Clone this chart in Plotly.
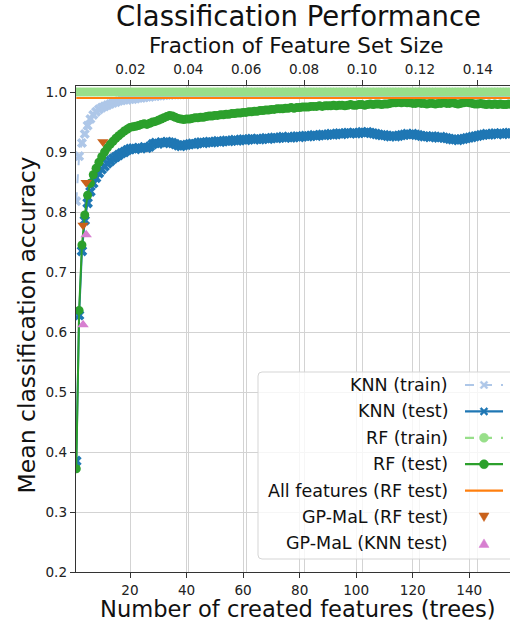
import plotly.graph_objects as go

# ---------------- data ----------------
n_trees = list(range(1, 156))
n_total_features = 1025          # fraction axis: trees / total features

knn_train = [
    0.818, 0.893, 0.915, 0.930, 0.944, 0.955, 0.962, 0.967, 0.971, 0.974,
    0.976, 0.978, 0.980, 0.982, 0.983, 0.985, 0.986, 0.987, 0.987, 0.988,
    0.988, 0.989, 0.990, 0.990, 0.991, 0.992, 0.992, 0.993, 0.993, 0.994,
    0.994, 0.995, 0.995, 0.995, 0.996, 0.996, 0.996, 0.996, 0.997, 0.997,
    0.997, 0.997, 0.998, 0.997, 0.998, 0.998, 0.997, 0.998, 0.998, 0.998,
    0.998, 0.999, 0.998, 0.998, 0.999, 0.998, 0.999, 0.999, 0.998, 0.999,
    0.999, 0.999, 0.998, 0.999, 0.999, 0.999, 0.999, 0.998, 0.999, 0.999,
    0.999, 0.999, 0.999, 0.998, 0.999, 0.999, 0.999, 0.999, 0.999, 0.999,
    0.999, 0.998, 0.999, 0.999, 0.999, 0.999, 0.999, 0.999, 0.998, 0.999,
    0.999, 0.999, 0.999, 0.999, 0.999, 0.999, 0.998, 0.999, 0.999, 0.999,
    0.999, 0.999, 0.999, 0.999, 0.999, 0.998, 0.999, 0.999, 0.999, 0.999,
    0.999, 0.999, 0.999, 0.999, 0.999, 0.999, 0.999, 0.998, 0.999, 0.999,
    0.999, 0.999, 0.999, 0.999, 0.999, 0.999, 0.999, 0.999, 0.999, 0.998,
    0.999, 0.999, 0.999, 0.999, 0.999, 0.999, 0.999, 0.999, 0.999, 0.999,
    0.999, 0.998, 0.999, 0.999, 0.999, 0.999, 0.999, 0.999, 0.999, 0.999,
    0.999, 0.999, 0.999, 0.999, 0.999,
]

knn_test = [
    0.385, 0.628, 0.735, 0.786, 0.815, 0.834, 0.848, 0.857, 0.865, 0.871,
    0.876, 0.881, 0.885, 0.889, 0.892, 0.895, 0.898, 0.900, 0.903, 0.905,
    0.906, 0.905, 0.907, 0.906, 0.908, 0.907, 0.909, 0.913, 0.915, 0.914,
    0.916, 0.915, 0.917, 0.916, 0.915, 0.913, 0.911, 0.910, 0.911, 0.912,
    0.913, 0.914, 0.913, 0.915, 0.916, 0.915, 0.916, 0.917, 0.916, 0.917,
    0.918, 0.917, 0.918, 0.919, 0.918, 0.919, 0.920, 0.919, 0.920, 0.921,
    0.920, 0.921, 0.922, 0.921, 0.922, 0.921, 0.922, 0.923, 0.922, 0.923,
    0.924, 0.923, 0.924, 0.925, 0.924, 0.925, 0.924, 0.925, 0.926, 0.925,
    0.926, 0.927, 0.926, 0.927, 0.928, 0.927, 0.928, 0.929, 0.928, 0.929,
    0.930, 0.929, 0.930, 0.931, 0.930, 0.931, 0.932, 0.931, 0.932, 0.931,
    0.932, 0.933, 0.932, 0.933, 0.932, 0.931, 0.930, 0.929, 0.928, 0.928,
    0.927, 0.926, 0.927, 0.926, 0.927, 0.928, 0.929, 0.930, 0.929, 0.930,
    0.929, 0.928, 0.927, 0.926, 0.926, 0.925, 0.926, 0.925, 0.924, 0.925,
    0.924, 0.923, 0.922, 0.921, 0.921, 0.920, 0.921, 0.922, 0.923, 0.924,
    0.925, 0.926, 0.927, 0.928, 0.929, 0.930, 0.929, 0.930, 0.931, 0.930,
    0.931, 0.930, 0.931, 0.932, 0.931,
]

rf_train = [
    1.000, 1.000, 1.000, 1.000, 1.000, 1.000, 1.000, 1.000, 1.000, 1.000,
    1.000, 1.000, 1.000, 1.000, 1.000, 1.000, 1.000, 1.000, 1.000, 1.000,
    1.000, 1.000, 1.000, 1.000, 1.000, 1.000, 1.000, 1.000, 1.000, 1.000,
    1.000, 1.000, 1.000, 1.000, 1.000, 1.000, 1.000, 1.000, 1.000, 1.000,
    1.000, 1.000, 1.000, 1.000, 1.000, 1.000, 1.000, 1.000, 1.000, 1.000,
    1.000, 1.000, 1.000, 1.000, 1.000, 1.000, 1.000, 1.000, 1.000, 1.000,
    1.000, 1.000, 1.000, 1.000, 1.000, 1.000, 1.000, 1.000, 1.000, 1.000,
    1.000, 1.000, 1.000, 1.000, 1.000, 1.000, 1.000, 1.000, 1.000, 1.000,
    1.000, 1.000, 1.000, 1.000, 1.000, 1.000, 1.000, 1.000, 1.000, 1.000,
    1.000, 1.000, 1.000, 1.000, 1.000, 1.000, 1.000, 1.000, 1.000, 1.000,
    1.000, 1.000, 1.000, 1.000, 1.000, 1.000, 1.000, 1.000, 1.000, 1.000,
    1.000, 1.000, 1.000, 1.000, 1.000, 1.000, 1.000, 1.000, 1.000, 1.000,
    1.000, 1.000, 1.000, 1.000, 1.000, 1.000, 1.000, 1.000, 1.000, 1.000,
    1.000, 1.000, 1.000, 1.000, 1.000, 1.000, 1.000, 1.000, 1.000, 1.000,
    1.000, 1.000, 1.000, 1.000, 1.000, 1.000, 1.000, 1.000, 1.000, 1.000,
    1.000, 1.000, 1.000, 1.000, 1.000,
]

rf_test = [
    0.372, 0.636, 0.745, 0.795, 0.828, 0.848, 0.862, 0.873, 0.883, 0.892,
    0.900, 0.907, 0.913, 0.918, 0.923, 0.927, 0.931, 0.935, 0.938, 0.941,
    0.942, 0.943, 0.944, 0.946, 0.947, 0.946, 0.948, 0.950, 0.951, 0.953,
    0.955, 0.957, 0.959, 0.961, 0.960, 0.958, 0.956, 0.955, 0.954, 0.955,
    0.955, 0.956, 0.957, 0.957, 0.958, 0.958, 0.959, 0.960, 0.960, 0.961,
    0.961, 0.962, 0.962, 0.963, 0.963, 0.964, 0.964, 0.965, 0.965, 0.966,
    0.966, 0.967, 0.967, 0.968, 0.968, 0.969, 0.969, 0.970, 0.970, 0.971,
    0.971, 0.972, 0.972, 0.972, 0.973, 0.973, 0.974, 0.973, 0.974, 0.974,
    0.975, 0.975, 0.975, 0.976, 0.976, 0.976, 0.977, 0.976, 0.977, 0.977,
    0.977, 0.978, 0.977, 0.978, 0.978, 0.977, 0.978, 0.979, 0.978, 0.978,
    0.979, 0.979, 0.978, 0.979, 0.980, 0.979, 0.980, 0.980, 0.979, 0.980,
    0.980, 0.981, 0.982, 0.982, 0.983, 0.982, 0.983, 0.982, 0.982, 0.981,
    0.981, 0.982, 0.981, 0.981, 0.980, 0.981, 0.981, 0.980, 0.981, 0.981,
    0.982, 0.981, 0.981, 0.982, 0.981, 0.980, 0.981, 0.982, 0.983, 0.982,
    0.981, 0.980, 0.980, 0.981, 0.980, 0.979, 0.980, 0.979, 0.980, 0.979,
    0.980, 0.979, 0.979, 0.980, 0.979,
]

all_features_rf = 0.99

gpmal_rf_x = [3.4, 4.5, 10.4]
gpmal_rf_y = [0.778, 0.849, 0.917]
gpmal_knn_x = [3.4, 4.5]
gpmal_knn_y = [0.612, 0.762]

x_ticks = [20, 40, 60, 80, 100, 120, 140]
frac_ticks = [0.02, 0.04, 0.06, 0.08, 0.10, 0.12, 0.14]
y_ticks = [0.2, 0.3, 0.4, 0.5, 0.6, 0.7, 0.8, 0.9, 1.0]

legend_labels = ["KNN (train)", "KNN (test)", "RF (train)", "RF (test)",
                 "All features (RF test)", "GP-MaL (RF test)", "GP-MaL (KNN test)"]

# ---------------- styling ----------------
C_KNN_TR = "#aec7e8"
C_KNN_TE = "#1f77b4"
C_RF_TR = "#98df8a"
C_RF_TE = "#2ca02c"
C_ALL = "#ff7f0e"
C_GP_RF = "#c9611b"
C_GP_KNN = "#d77fd0"
FONT = "DejaVu Sans"
W, H = 510, 623
L, R, T, B = 76, 510, 86, 572


def pxx(px):
    return (px - L) / (R - L)


def pxy(py):
    return (B - py) / (B - T)


fig = go.Figure()
fig.add_trace(go.Scatter(x=n_trees, y=knn_train, mode="lines+markers",
                         line=dict(color=C_KNN_TR, width=2, dash="dash"),
                         marker=dict(symbol="x", size=9, color=C_KNN_TR),
                         name=legend_labels[0], showlegend=False))
fig.add_trace(go.Scatter(x=n_trees, y=knn_test, mode="lines+markers",
                         line=dict(color=C_KNN_TE, width=2),
                         marker=dict(symbol="x", size=9.5, color=C_KNN_TE),
                         name=legend_labels[1], showlegend=False))
fig.add_trace(go.Scatter(x=n_trees, y=rf_train, mode="lines+markers",
                         line=dict(color=C_RF_TR, width=2, dash="dash"),
                         marker=dict(symbol="circle", size=9, color=C_RF_TR),
                         name=legend_labels[2], showlegend=False))
fig.add_trace(go.Scatter(x=n_trees, y=rf_test, mode="lines+markers",
                         line=dict(color=C_RF_TE, width=2),
                         marker=dict(symbol="circle", size=9, color=C_RF_TE),
                         name=legend_labels[3], showlegend=False))
fig.add_trace(go.Scatter(x=[n_trees[0], n_trees[-1]], y=[all_features_rf, all_features_rf],
                         mode="lines", line=dict(color=C_ALL, width=2.2),
                         name=legend_labels[4], showlegend=False))
fig.add_trace(go.Scatter(x=gpmal_rf_x, y=gpmal_rf_y, mode="markers",
                         marker=dict(symbol="triangle-down", size=10, color=C_GP_RF),
                         name=legend_labels[5], showlegend=False))
fig.add_trace(go.Scatter(x=gpmal_knn_x, y=gpmal_knn_y, mode="markers",
                         marker=dict(symbol="triangle-up", size=10, color=C_GP_KNN),
                         name=legend_labels[6], showlegend=False))
# invisible trace carrying the top (fraction) axis
fig.add_trace(go.Scatter(x=[t / n_total_features for t in n_trees], y=rf_test,
                         xaxis="x2", mode="lines", line=dict(width=0, color="rgba(0,0,0,0)"),
                         hoverinfo="skip", showlegend=False))

axis_common = dict(showgrid=True, gridcolor="#d3d3d3", gridwidth=1.2,
                   showline=True, linecolor="#333333", linewidth=1.4,
                   ticks="outside", ticklen=5, tickwidth=1.2, tickcolor="#333333",
                   tickfont=dict(family=FONT, size=13.6, color="#222222"),
                   zeroline=False)

fig.update_layout(
    width=W, height=H,
    margin=dict(l=L, r=W - R, t=T, b=H - B, pad=0),
    paper_bgcolor="white", plot_bgcolor="white",
    font=dict(family=FONT, color="#111111"),
    xaxis=dict(range=[0.9, 154.4], tickvals=x_ticks, **axis_common),
    xaxis2=dict(range=[0.0012, 0.15112], tickvals=frac_ticks, tickformat=".2f",
                overlaying="x", side="top", anchor="y", **axis_common),
    yaxis=dict(range=[0.2, 1.01], tickvals=y_ticks, tickformat=".1f", **axis_common),
)

annotations = [
    dict(text="Classification Performance", x=pxx(298), y=pxy(15.5),
         font=dict(family=FONT, size=27.5, color="#111111")),
    dict(text="Fraction of Feature Set Size", x=pxx(296), y=pxy(45),
         font=dict(family=FONT, size=21.5, color="#111111")),
    dict(text="Number of created features (trees)", x=pxx(298), y=pxy(609),
         font=dict(family=FONT, size=22.6, color="#111111")),
    dict(text="Mean classification accuracy", x=pxx(26.5), y=pxy(325), textangle=-90,
         font=dict(family=FONT, size=23.5, color="#111111")),
]
for a in annotations:
    a.update(xref="paper", yref="paper", xanchor="center", yanchor="middle",
             showarrow=False)

# ---- custom legend (text first, key on the right, like the reference) ----
shapes = []
bx0, bx1, by0, by1, rr = 258, 516, 372, 559, 4
rx, ry = rr / (R - L), rr / (B - T)
X0, X1, Y0, Y1 = pxx(bx0), pxx(bx1), pxy(by1), pxy(by0)
path = (f"M{X0+rx},{Y0} L{X1-rx},{Y0} Q{X1},{Y0} {X1},{Y0+ry} L{X1},{Y1-ry} "
        f"Q{X1},{Y1} {X1-rx},{Y1} L{X0+rx},{Y1} Q{X0},{Y1} {X0},{Y1-ry} "
        f"L{X0},{Y0+ry} Q{X0},{Y0} {X0+rx},{Y0} Z")
shapes.append(dict(type="path", path=path, xref="paper", yref="paper", layer="above",
                   fillcolor="rgba(255,255,255,0.8)", line=dict(color="#d5d5d5", width=1)))

row_y = [385 + 26.4 * i for i in range(len(legend_labels))]
key_x0, key_x1, key_xc = 465, 503, 484
text_right = 450

line_keys = [(C_KNN_TR, "dash"), (C_KNN_TE, "solid"), (C_RF_TR, "dash"),
             (C_RF_TE, "solid"), (C_ALL, "solid"), None, None]
marker_keys = [("x", C_KNN_TR), ("x", C_KNN_TE), ("circle", C_RF_TR), ("circle", C_RF_TE),
               None, ("tri-down", C_GP_RF), ("tri-up", C_GP_KNN)]

X_PATH = ("M-4,-2.6 L-2.6,-4 L0,-1.4 L2.6,-4 L4,-2.6 L1.4,0 L4,2.6 L2.6,4 "
          "L0,1.4 L-2.6,4 L-4,2.6 L-1.4,0 Z")
TRI_DOWN = "M-5,4 L5,4 L0,-4.5 Z"
TRI_UP = "M-5,-4 L5,-4 L0,4.5 Z"

for i, label in enumerate(legend_labels):
    yc = row_y[i]
    annotations.append(dict(text=label, x=pxx(text_right), y=pxy(yc), xref="paper",
                            yref="paper", xanchor="right", yanchor="middle",
                            showarrow=False,
                            font=dict(family=FONT, size=17.5, color="#111111")))
    if line_keys[i] is not None:
        col, dash = line_keys[i]
        shapes.append(dict(type="line", xref="paper", yref="paper", layer="above",
                           x0=pxx(key_x0), x1=pxx(key_x1), y0=pxy(yc), y1=pxy(yc),
                           line=dict(color=col, width=2.2, dash=dash)))
    if marker_keys[i] is not None:
        kind, col = marker_keys[i]
        base = dict(xref="paper", yref="paper", layer="above", xsizemode="pixel",
                    ysizemode="pixel", xanchor=pxx(key_xc), yanchor=pxy(yc),
                    fillcolor=col, line=dict(color=col, width=0.5))
        if kind == "circle":
            base.update(type="circle", x0=-4.5, x1=4.5, y0=-4.5, y1=4.5)
        elif kind == "x":
            base.update(type="path", path=X_PATH)
        elif kind == "tri-down":
            base.update(type="path", path=TRI_DOWN)
        else:
            base.update(type="path", path=TRI_UP)
        shapes.append(base)

fig.update_layout(annotations=annotations, shapes=shapes)
fig.write_html("out.html")
